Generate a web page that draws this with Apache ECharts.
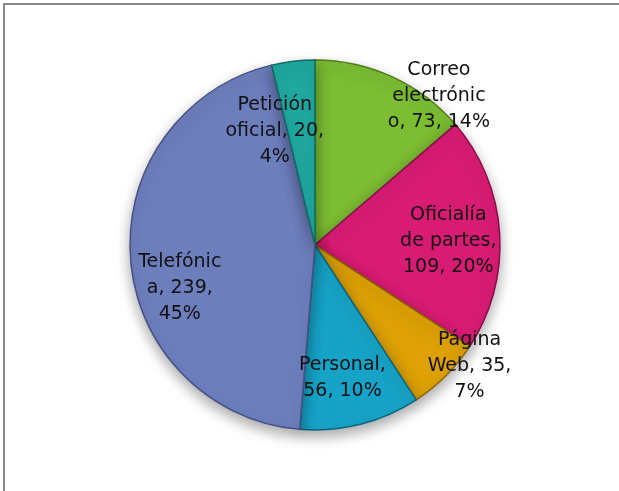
<!DOCTYPE html>
<html>
<head>
<meta charset="utf-8">
<script src="https://cdn.jsdelivr.net/npm/echarts@6/dist/echarts.min.js"></script>
<style>
html,body{margin:0;padding:0;background:#fff;overflow:hidden;width:619px;height:491px;}
#frame{position:absolute;left:3px;top:3px;width:640px;height:520px;border-top:2px solid #8a8a8a;border-left:2px solid #8a8a8a;box-sizing:border-box;}
#chart{position:absolute;left:0;top:0;width:619px;height:491px;}
</style>
</head>
<body>
<div id="frame"></div>
<div id="chart"></div>
<script>
const categories = ["Correo electrónico", "Oficialía de partes", "Página Web", "Personal", "Telefónica", "Petición oficial"];
const values = [73, 109, 35, 56, 239, 20];
const labelTemplates = [
  "Correo\nelectrónic\no, {c}, {d}%",
  "Oficialía\nde partes,\n{c}, {d}%",
  "Página\nWeb, {c},\n{d}%",
  "Personal,\n{c}, {d}%",
  "Telefónic\na, {c},\n{d}%",
  "Petición\noficial, {c},\n{d}%"
];
const colors = ["#7cbd33", "#d81c74", "#dda105", "#17a3c7", "#6d7ebd", "#1fa89f"];
const borders = ["#4d7d17", "#8a0d48", "#8c6500", "#0a6680", "#454f85", "#0f6b64"];
const labelOffsets = [[84,-62],[38,2],[87,54],[4,40],[-40,36],[-29,-19]];

const chart = echarts.init(document.getElementById('chart'));
chart.setOption({
  animation: false,
  series: [{
    type: 'pie',
    center: [315, 245],
    radius: 185,
    startAngle: 90,
    clockwise: true,
    percentPrecision: 0,
    itemStyle: {
      shadowBlur: 14,
      shadowOffsetY: 6,
      shadowColor: 'rgba(0,0,0,0.35)'
    },
    label: {
      show: true,
      position: 'inside',
      fontFamily: 'DejaVu Sans',
      fontSize: 19,
      lineHeight: 26,
      color: '#111',
      align: 'center'
    },
    labelLine: {show: false},
    labelLayout: function (p) {
      const o = labelOffsets[p.dataIndex];
      return {dx: o[0], dy: o[1]};
    },
    data: categories.map((n, i) => ({
      name: n,
      value: values[i],
      itemStyle: {color: colors[i], borderColor: borders[i], borderWidth: 1.5},
      label: {formatter: labelTemplates[i]}
    }))
  }]
});
</script>
</body>
</html>
